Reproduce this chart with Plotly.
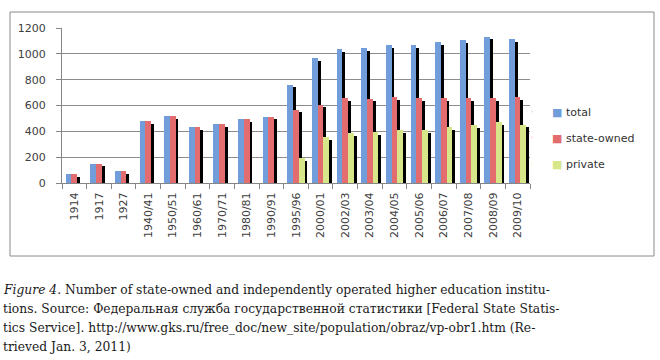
import plotly.graph_objects as go

categories = ["1914", "1917", "1927", "1940/41", "1950/51", "1960/61", "1970/71",
              "1980/81", "1990/91", "1995/96", "2000/01", "2002/03", "2003/04",
              "2004/05", "2005/06", "2006/07", "2007/08", "2008/09", "2009/10"]
total = [72, 150, 90, 481, 516, 430, 457, 494, 514, 762, 965, 1039, 1044,
         1071, 1068, 1090, 1108, 1134, 1114]
state_owned = [72, 150, 90, 481, 516, 430, 457, 494, 514, 569, 607, 655, 654,
               662, 655, 660, 658, 660, 662]
private = [None, None, None, None, None, None, None, None, None, 193, 358, 384, 392,
           409, 413, 430, 450, 474, 452]

series = [("total", total, "#719DDB"),
          ("state-owned", state_owned, "#E26C6E"),
          ("private", private, "#D6E688")]

W = 0.232
offsets = [-0.35, -0.118, 0.114]
SH_DX = 0.115
SH_DY = -22

fig = go.Figure()
for (name, vals, col), off in zip(series, offsets):
    fig.add_trace(go.Bar(x=categories, y=vals, base=SH_DY, offset=off + SH_DX, width=W,
                         marker=dict(color="#000000", line=dict(width=0)),
                         showlegend=False, hoverinfo="skip"))
    fig.add_trace(go.Bar(x=categories, y=vals, offset=off, width=W, name=name,
                         marker=dict(color=col, line=dict(width=0)),
                         showlegend=False))
for name, vals, col in series:
    fig.add_trace(go.Scatter(x=[None], y=[None], mode="markers",
                             name='<span style="color:%s">■</span> %s' % (col, name),
                             legendgroup=name,
                             marker=dict(symbol="square", size=1, opacity=0, color=col)))

L, R, T, B = 62, 130, 28, 177
PW, PH = 660 - L - R, 360 - T - B

def px(x):
    return (x - L) / PW

def py(y):
    return (360 - B - y) / PH

axis_font = dict(family="DejaVu Sans", size=11, color="#404040")

fig.update_layout(
    width=660, height=360,
    margin=dict(l=L, r=R, t=T, b=B),
    paper_bgcolor="white", plot_bgcolor="white",
    barmode="overlay", bargap=0,
    showlegend=True,
    legend=dict(x=px(512), y=py(97), xanchor="left", yanchor="top",
                font=dict(family="DejaVu Sans", size=11, color="#333333"),
                tracegroupgap=7, itemwidth=30, bgcolor="rgba(0,0,0,0)"),
    xaxis=dict(type="category", tickangle=-90, tickfont=axis_font,
               showline=True, linecolor="#868686", linewidth=1,
               ticks="outside", tickson="boundaries", ticklen=5, tickcolor="#868686",
               showgrid=False, ticklabelstandoff=4),
    yaxis=dict(range=[0, 1200], dtick=200, tickfont=axis_font,
               showline=True, linecolor="#868686", linewidth=1,
               ticks="outside", ticklen=5, tickcolor="#868686",
               gridcolor="#8C8C8C", gridwidth=1, zeroline=False,
               ticklabelstandoff=8),
)

fig.add_shape(type="rect", xref="paper", yref="paper",
              x0=px(10), x1=px(654), y0=py(256), y1=py(12),
              line=dict(color="#8A8A8A", width=1), layer="below")

caption = [
    "<i>Figure 4.</i> Number of state-owned and independently operated higher education institu-",
    "tions. Source: Федеральная служба государственной статистики [Federal State Statis-",
    "tics Service]. http://www.gks.ru/free_doc/new_site/population/obraz/vp-obr1.htm (Re-",
    "trieved Jan. 3, 2011)",
]
for i, line in enumerate(caption):
    fig.add_annotation(text=line, xref="paper", yref="paper",
                       x=px(1), y=py(290 + i * 19), xanchor="left", yanchor="middle",
                       showarrow=False,
                       font=dict(family="DejaVu Serif", size=12.3, color="#1a1a1a"))

fig.write_html("out.html", config={"displayModeBar": False},
               post_script="document.body.style.margin='0';document.body.style.overflow='hidden';")
